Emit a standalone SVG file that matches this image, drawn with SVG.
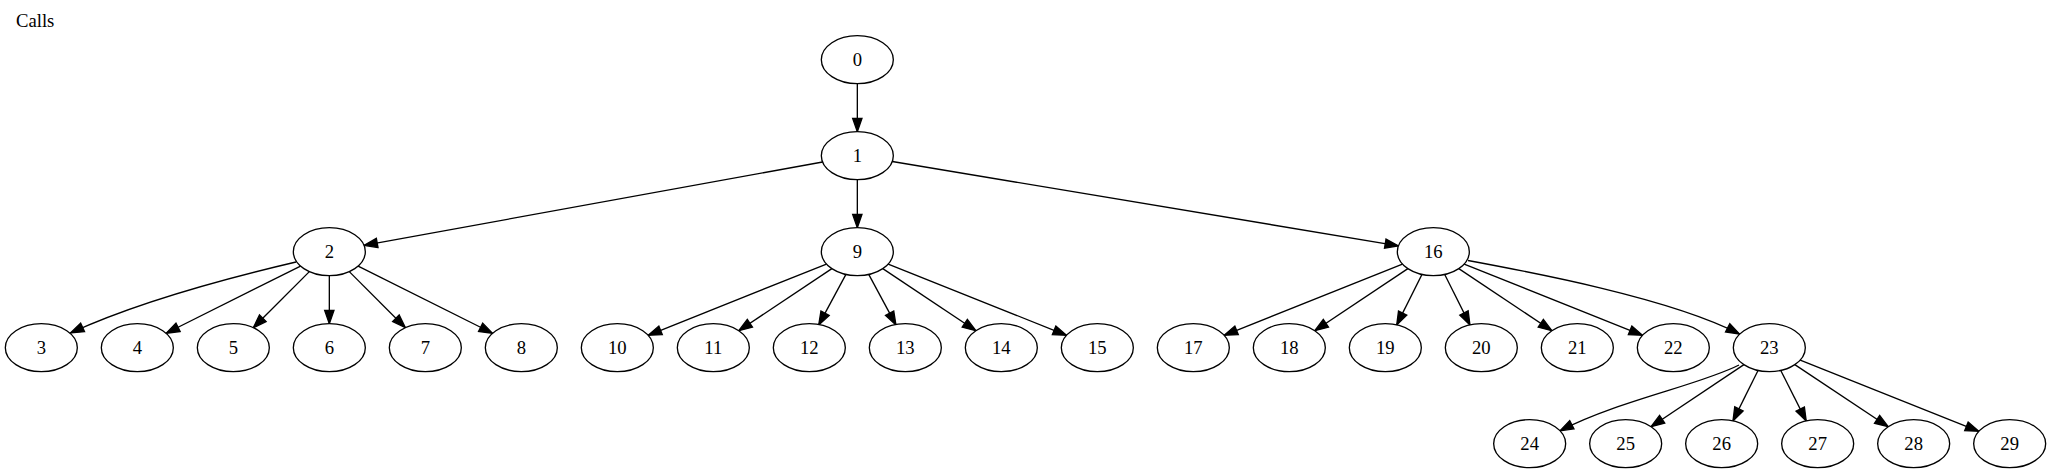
<svg xmlns="http://www.w3.org/2000/svg" width="2051" height="473" viewBox="0 0 2051 473">
<style>
.n ellipse{fill:#fff;stroke:#000;stroke-width:1.33}
.n text,.t{font-family:"Liberation Serif","Times New Roman",serif;font-size:18.67px;fill:#000}
.n text{text-anchor:middle}
.e path{fill:none;stroke:#000;stroke-width:1.33;marker-end:url(#arr)}
</style>
<defs>
<marker id="arr" markerUnits="userSpaceOnUse" markerWidth="16" markerHeight="12" viewBox="-1 -1 16 12" refX="13.33" refY="4.67" orient="auto" overflow="visible">
<path d="M0,0 L13.33,4.67 L0,9.33 z" fill="#000" stroke="#000" stroke-width="1.33"/>
</marker>
</defs>
<rect x="0" y="0" width="2051" height="473" fill="#fff"/>
<text class="t" x="16" y="26.67">Calls</text>
<g id="edges" class="e">
<path d="M857.33,83.67 L857.33,131.67"/>
<path d="M822.6,162 L364.06,245.35"/>
<path d="M857.33,179.67 L857.33,227.67"/>
<path d="M892.25,161.5 L1398.41,245.85"/>
<path d="M296,262 C232,277 140,301 70.5,333"/>
<path d="M300.53,266.07 L166.13,333.27"/>
<path d="M309.36,271.64 L253.36,327.7"/>
<path d="M329.33,275.67 L329.33,323.67"/>
<path d="M349.3,271.64 L405.36,327.7"/>
<path d="M358.13,266.07 L492.53,333.27"/>
<path d="M826.46,264.02 L648.2,335.32"/>
<path d="M831.87,268.64 L738.79,330.7"/>
<path d="M845.94,274.44 L818.72,324.9"/>
<path d="M868.72,274.44 L895.94,324.9"/>
<path d="M882.79,268.64 L975.87,330.7"/>
<path d="M888.2,264.02 L1066.46,335.32"/>
<path d="M1402.46,264.02 L1224.2,335.32"/>
<path d="M1407.87,268.64 L1314.79,330.7"/>
<path d="M1421.94,274.44 L1396.72,324.9"/>
<path d="M1444.72,274.44 L1469.94,324.9"/>
<path d="M1458.79,268.64 L1551.87,330.7"/>
<path d="M1464.2,264.02 L1642.46,335.32"/>
<path d="M1468,260.5 C1530,272 1670,298 1739.5,334"/>
<path d="M1739,365 C1700,385 1620,400 1560,430.8"/>
<path d="M1743.93,364.6 L1651.07,426.7"/>
<path d="M1758.02,370.45 L1732.98,420.89"/>
<path d="M1780.79,370.44 L1806.21,420.9"/>
<path d="M1794.82,364.62 L1888.18,426.72"/>
<path d="M1800.21,360.01 L1978.79,431.33"/>
</g>
<g id="node0" class="n"><ellipse cx="857.33" cy="59.67" rx="36" ry="24"/><text x="857.33" y="65.67">0</text></g>
<g id="node1" class="n"><ellipse cx="857.33" cy="155.67" rx="36" ry="24"/><text x="857.33" y="161.67">1</text></g>
<g id="node2" class="n"><ellipse cx="329.33" cy="251.67" rx="36" ry="24"/><text x="329.33" y="257.67">2</text></g>
<g id="node9" class="n"><ellipse cx="857.33" cy="251.67" rx="36" ry="24"/><text x="857.33" y="257.67">9</text></g>
<g id="node16" class="n"><ellipse cx="1433.33" cy="251.67" rx="36" ry="24"/><text x="1433.33" y="257.67">16</text></g>
<g id="node3" class="n"><ellipse cx="41.33" cy="347.67" rx="36" ry="24"/><text x="41.33" y="353.67">3</text></g>
<g id="node4" class="n"><ellipse cx="137.33" cy="347.67" rx="36" ry="24"/><text x="137.33" y="353.67">4</text></g>
<g id="node5" class="n"><ellipse cx="233.33" cy="347.67" rx="36" ry="24"/><text x="233.33" y="353.67">5</text></g>
<g id="node6" class="n"><ellipse cx="329.33" cy="347.67" rx="36" ry="24"/><text x="329.33" y="353.67">6</text></g>
<g id="node7" class="n"><ellipse cx="425.33" cy="347.67" rx="36" ry="24"/><text x="425.33" y="353.67">7</text></g>
<g id="node8" class="n"><ellipse cx="521.33" cy="347.67" rx="36" ry="24"/><text x="521.33" y="353.67">8</text></g>
<g id="node10" class="n"><ellipse cx="617.33" cy="347.67" rx="36" ry="24"/><text x="617.33" y="353.67">10</text></g>
<g id="node11" class="n"><ellipse cx="713.33" cy="347.67" rx="36" ry="24"/><text x="713.33" y="353.67">11</text></g>
<g id="node12" class="n"><ellipse cx="809.33" cy="347.67" rx="36" ry="24"/><text x="809.33" y="353.67">12</text></g>
<g id="node13" class="n"><ellipse cx="905.33" cy="347.67" rx="36" ry="24"/><text x="905.33" y="353.67">13</text></g>
<g id="node14" class="n"><ellipse cx="1001.33" cy="347.67" rx="36" ry="24"/><text x="1001.33" y="353.67">14</text></g>
<g id="node15" class="n"><ellipse cx="1097.33" cy="347.67" rx="36" ry="24"/><text x="1097.33" y="353.67">15</text></g>
<g id="node17" class="n"><ellipse cx="1193.33" cy="347.67" rx="36" ry="24"/><text x="1193.33" y="353.67">17</text></g>
<g id="node18" class="n"><ellipse cx="1289.33" cy="347.67" rx="36" ry="24"/><text x="1289.33" y="353.67">18</text></g>
<g id="node19" class="n"><ellipse cx="1385.33" cy="347.67" rx="36" ry="24"/><text x="1385.33" y="353.67">19</text></g>
<g id="node20" class="n"><ellipse cx="1481.33" cy="347.67" rx="36" ry="24"/><text x="1481.33" y="353.67">20</text></g>
<g id="node21" class="n"><ellipse cx="1577.33" cy="347.67" rx="36" ry="24"/><text x="1577.33" y="353.67">21</text></g>
<g id="node22" class="n"><ellipse cx="1673.33" cy="347.67" rx="36" ry="24"/><text x="1673.33" y="353.67">22</text></g>
<g id="node23" class="n"><ellipse cx="1769.33" cy="347.67" rx="36" ry="24"/><text x="1769.33" y="353.67">23</text></g>
<g id="node24" class="n"><ellipse cx="1529.67" cy="443.67" rx="36" ry="24"/><text x="1529.67" y="449.67">24</text></g>
<g id="node25" class="n"><ellipse cx="1625.67" cy="443.67" rx="36" ry="24"/><text x="1625.67" y="449.67">25</text></g>
<g id="node26" class="n"><ellipse cx="1721.67" cy="443.67" rx="36" ry="24"/><text x="1721.67" y="449.67">26</text></g>
<g id="node27" class="n"><ellipse cx="1817.67" cy="443.67" rx="36" ry="24"/><text x="1817.67" y="449.67">27</text></g>
<g id="node28" class="n"><ellipse cx="1913.67" cy="443.67" rx="36" ry="24"/><text x="1913.67" y="449.67">28</text></g>
<g id="node29" class="n"><ellipse cx="2009.67" cy="443.67" rx="36" ry="24"/><text x="2009.67" y="449.67">29</text></g>
</svg>
